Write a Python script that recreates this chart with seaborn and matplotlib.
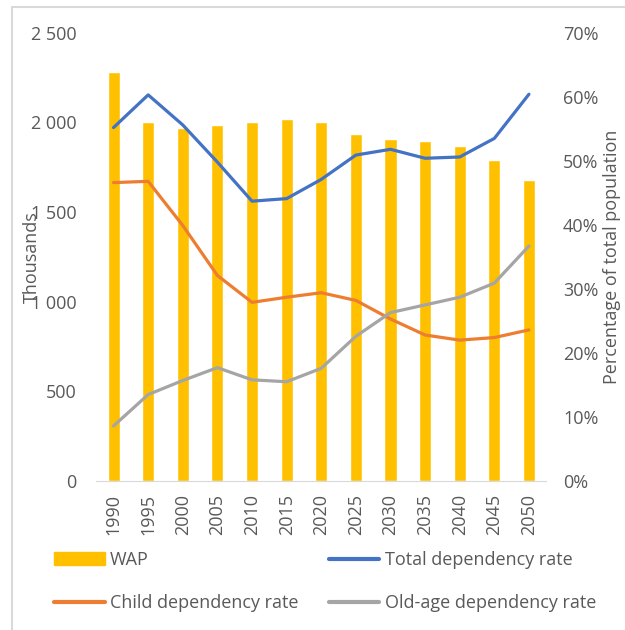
import matplotlib
matplotlib.use("Agg")
import matplotlib.pyplot as plt
import matplotlib.patches as mpatches
from matplotlib.lines import Line2D
from matplotlib.ticker import FuncFormatter
import numpy as np
import pandas as pd
import seaborn as sns

# Dados
anos = ['1990', '1995', '2000', '2005', '2010', '2015', '2020',
        '2025', '2030', '2035', '2040', '2045', '2050']
wap = [2280, 2000, 1970, 1985, 2000, 2020, 2000, 1935, 1910, 1895, 1870, 1790, 1680]
total_dep = [55.2, 60.3, 55.6, 49.8, 43.7, 44.1, 47.1, 50.9, 51.8, 50.4, 50.6, 53.5, 60.4]
child_dep = [46.6, 46.8, 39.9, 32.1, 27.9, 28.7, 29.4, 28.2, 25.3, 22.8, 22.0, 22.4, 23.6]
old_dep = [8.6, 13.5, 15.7, 17.7, 15.8, 15.5, 17.6, 22.6, 26.3, 27.5, 28.7, 30.9, 36.7]

df = pd.DataFrame({'ano': anos, 'WAP': wap, 'total': total_dep,
                   'child': child_dep, 'old': old_dep})
df['pos'] = np.arange(len(anos))

sns.set_style('white')
plt.rcParams['font.family'] = ['Open Sans', 'DejaVu Sans']

cinza = '#595959'
amarelo = '#FFC000'
azul = '#4472C4'
laranja = '#ED7D31'
cinza_linha = '#A5A5A5'
fs = 13

fig = plt.figure(figsize=(6.25, 6.3), dpi=100)
ax1 = fig.add_axes([0.154, 0.2365, 0.72, 0.7115])

# Barras (WAP)
sns.barplot(data=df, x='ano', y='WAP', color=amarelo, width=0.35,
            saturation=1, ax=ax1)
ax1.set_xlim(-0.5, 12.5)
ax1.set_ylim(0, 2500)
ax1.set_yticks(np.arange(0, 2501, 500))
ax1.yaxis.set_major_formatter(FuncFormatter(lambda v, p: f'{int(v):,}'.replace(',', ' ')))
ax1.set_xlabel('')
ax1.set_ylabel('Thousands', color=cinza, fontsize=fs)
ax1.yaxis.set_label_coords(-0.124, 0.50)
ax1.tick_params(axis='y', length=0, pad=14, labelsize=fs, labelcolor=cinza)
ax1.tick_params(axis='x', length=0, pad=9, labelsize=fs, labelcolor=cinza, rotation=90)
for s in ['top', 'right', 'left']:
    ax1.spines[s].set_visible(False)
ax1.spines['bottom'].set_color('#D9D9D9')

# Linhas (taxas de dependência)
ax2 = ax1.twinx()
sns.lineplot(data=df, x='pos', y='total', color=azul, linewidth=2.3, ax=ax2)
sns.lineplot(data=df, x='pos', y='child', color=laranja, linewidth=2.3, ax=ax2)
sns.lineplot(data=df, x='pos', y='old', color=cinza_linha, linewidth=2.3, ax=ax2)
ax2.set_xlim(-0.5, 12.5)
ax2.set_ylim(0, 70)
ax2.set_yticks(np.arange(0, 71, 10))
ax2.yaxis.set_major_formatter(FuncFormatter(lambda v, p: f'{int(v)}%'))
ax2.set_ylabel('Percentage of total population', color=cinza, fontsize=fs)
ax2.yaxis.set_label_coords(1.125, 0.5)
ax2.tick_params(axis='y', length=0, pad=12, labelsize=fs, labelcolor=cinza)
for s in ax2.spines.values():
    s.set_visible(False)

# Legenda
handles = [mpatches.Patch(color=amarelo),
           Line2D([], [], color=laranja, linewidth=3),
           Line2D([], [], color=azul, linewidth=3),
           Line2D([], [], color=cinza_linha, linewidth=3)]
labels = ['WAP', 'Child dependency rate', 'Total dependency rate', 'Old-age dependency rate']
fig.legend(handles, labels, ncol=2, loc='upper left', bbox_to_anchor=(0.075, 0.137),
           frameon=False, fontsize=fs, labelcolor=cinza, handlelength=2.8,
           handletextpad=0.28, columnspacing=1.7, labelspacing=1.4, borderaxespad=0)

# Borda da área do gráfico
fig.patches.append(mpatches.Rectangle((12 / 625, -0.1), 1.2, 1 - 7 / 630 + 0.1,
                                      transform=fig.transFigure, fill=False,
                                      edgecolor='#D9D9D9', linewidth=1.5))

fig.savefig('out.png', dpi=100)
